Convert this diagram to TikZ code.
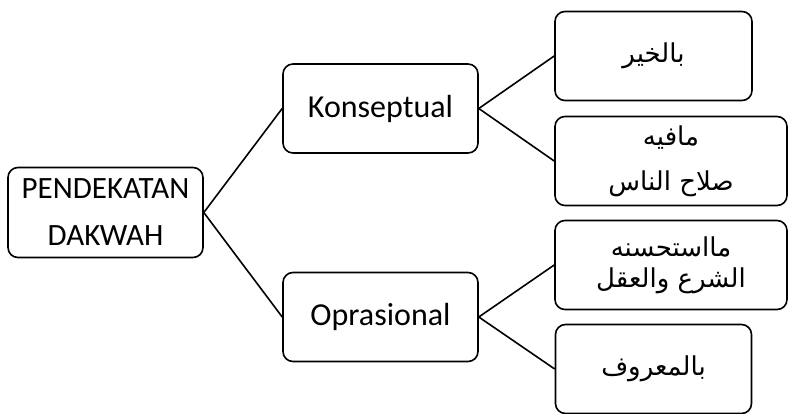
\documentclass[tikz,border=0pt]{standalone}
\usepackage{fontspec}
\setmainfont{Carlito}
\newfontfamily\arabicfont[Script=Arabic]{DejaVu Sans}
\TeXXeTstate=1
\usetikzlibrary{positioning}
\tikzset{%
  % Specifications for style of nodes:
        base/.style = {rectangle, rounded corners=10pt, draw=black,
                       line width=1.6pt, align=center,
                       inner sep=0pt},
     rootbox/.style = {base, minimum width=195pt, minimum height=90pt,
                       font=\fontsize{31}{47}\selectfont},
    stagebox/.style = {base, minimum width=195pt, minimum height=89pt,
                       font=\fontsize{32}{38}\selectfont},
   arabicbox/.style = {base, minimum height=89pt,
                       font=\arabicfont\fontsize{26}{31}\selectfont},
    link/.style = {line width=1.6pt},
}
\begin{document}
\begin{tikzpicture}[node distance=275pt]
  \useasboundingbox (0,0) rectangle (788pt,-413pt);
  % Specification of nodes (position, etc.)
  \node (root)      [rootbox] at (105.5pt,-212.5pt) {PENDEKATAN\\DAKWAH};
  \node (konsep)    [stagebox, right of=root, yshift=104pt] {Konseptual};
  \node (opras)     [stagebox, right of=root, yshift=-104.5pt] {Oprasional};
  \node (khair)     [arabicbox, minimum width=197pt, right of=konsep, xshift=-2pt, yshift=52.5pt] {\beginR بالخير\endR};
  \node (salah)     [arabicbox, minimum width=232pt, right of=konsep, xshift=15.5pt, yshift=-52.5pt,
                     font=\arabicfont\fontsize{26}{45}\selectfont] {\beginR مافيه\endR\\\beginR صلاح الناس\endR};
  \node (syara)     [arabicbox, minimum width=232pt, right of=opras, xshift=15.5pt, yshift=52pt] {\beginR مااستحسنه\endR\\\beginR الشرع والعقل\endR};
  \node (maruf)     [arabicbox, minimum width=196pt, right of=opras, xshift=-2pt, yshift=-52pt] {\beginR بالمعروف\endR};

  \draw[link]       (root.east) -- (konsep.west);
  \draw[link]       (root.east) -- (opras.west);
  \draw[link]       (konsep.east) -- (khair.west);
  \draw[link]       (konsep.east) -- (salah.west);
  \draw[link]       (opras.east) -- (syara.west);
  \draw[link]       (opras.east) -- (maruf.west);
\end{tikzpicture}
\end{document}
